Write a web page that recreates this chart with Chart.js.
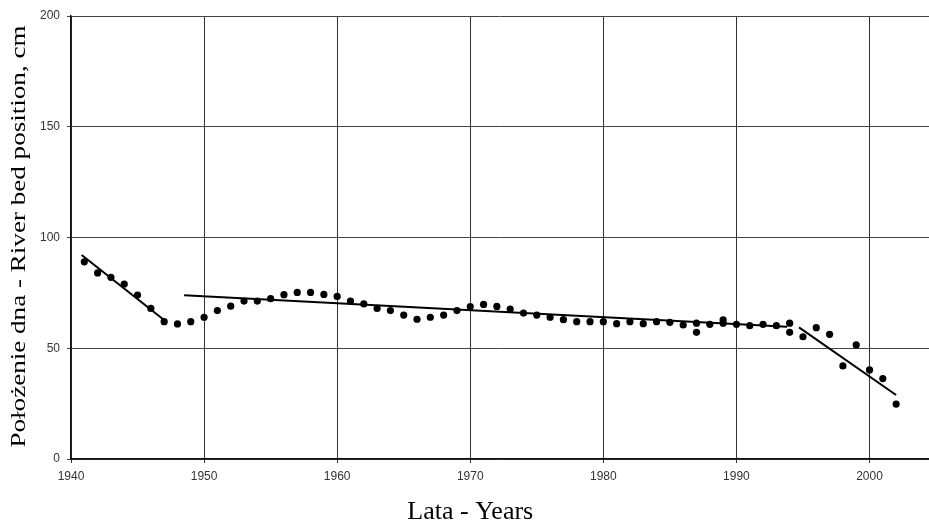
<!DOCTYPE html>
<html>
<head>
<meta charset="utf-8">
<script src="https://cdn.jsdelivr.net/npm/chart.js@4/dist/chart.umd.min.js"></script>
<style>
  html, body { margin: 0; padding: 0; background: #fff; overflow: hidden; }
  #wrap { width: 929px; height: 526px; position: relative; overflow: hidden; }
  #c { display: block; }
</style>
</head>
<body>
<div id="wrap"><canvas id="c" width="933" height="526"></canvas></div>
<script>
// River bed position measurements (cm) by year
const years = [1941, 1942, 1943, 1944, 1945, 1946, 1947, 1948, 1949, 1950,
  1951, 1952, 1953, 1954, 1955, 1956, 1957, 1958, 1959, 1960,
  1961, 1962, 1963, 1964, 1965, 1966, 1967, 1968, 1969, 1970,
  1971, 1972, 1973, 1974, 1975, 1976, 1977, 1978, 1979, 1980,
  1981, 1982, 1983, 1984, 1985, 1986, 1987, 1987, 1988, 1989,
  1989, 1990, 1991, 1992, 1993, 1994, 1994, 1995, 1996, 1997,
  1998, 1999, 2000, 2001, 2002];
const bedPosition = [89, 84, 82, 79, 74, 68, 62, 61, 62, 64,
  67, 69, 71.3, 71.3, 72.4, 74.2, 75.2, 75.2, 74.3, 73.4,
  71.3, 70, 68, 67, 65, 63.1, 64, 65, 67, 68.8,
  69.8, 68.9, 67.7, 65.9, 65, 64, 62.9, 62, 62, 62,
  61.1, 62, 61.1, 62, 61.7, 60.5, 61.3, 57.2, 60.8, 62.8,
  61.3, 60.8, 60.2, 60.8, 60.2, 61.3, 57.2, 55.2, 59.3, 56.3,
  42, 51.5, 40.2, 36.3, 24.8];

// Fitted trend segments: [startYear, endYear] with matching values
const trend1Years = [1940.8, 1946.9];
const trend1Values = [92.1, 63.2];
const trend2Years = [1948.5, 1993.8];
const trend2Values = [73.9, 59.7];
const trend3Years = [1994.7, 2002.0];
const trend3Values = [59.4, 28.9];

// Axis ticks
const yearTicks = [1940, 1950, 1960, 1970, 1980, 1990, 2000];
const valueTicks = [0, 50, 100, 150, 200];

const xTitle = 'Lata - Years';
const yTitle = 'Położenie dna - River bed position, cm';

const toPoints = (xs, ys) => xs.map((x, i) => ({ x: x, y: ys[i] }));

const trendStyle = {
  type: 'line',
  borderColor: '#000',
  borderWidth: 2,
  pointRadius: 0,
  fill: false,
  tension: 0
};

// Axis titles: x title under the middle decade, y title rotated and
// stretched along its length beside the value axis
const axisTitlePlugin = {
  id: 'axisTitles',
  afterDraw(chart) {
    const xs = chart.scales.x;
    const area = chart.chartArea;
    const ctx = chart.ctx;
    const mid = (yearTicks[0] + yearTicks[yearTicks.length - 1]) / 2;
    ctx.save();
    ctx.fillStyle = '#000';
    ctx.textAlign = 'center';
    ctx.textBaseline = 'alphabetic';
    ctx.font = '26px "Liberation Serif", "Times New Roman", serif';
    ctx.fillText(xTitle, xs.getPixelForValue(mid), 519);
    ctx.restore();

    ctx.save();
    ctx.fillStyle = '#000';
    ctx.textAlign = 'center';
    ctx.textBaseline = 'alphabetic';
    ctx.font = '21px "Liberation Serif", "Times New Roman", serif';
    ctx.translate(25, (area.top + area.bottom) / 2 - 1);
    ctx.rotate(-Math.PI / 2);
    ctx.scale(1.29, 1);
    ctx.fillText(yTitle, 0, 0);
    ctx.restore();
  }
};

new Chart(document.getElementById('c'), {
  type: 'scatter',
  data: {
    datasets: [
      Object.assign({ data: toPoints(trend1Years, trend1Values), order: 0 }, trendStyle),
      Object.assign({ data: toPoints(trend2Years, trend2Values), order: 0 }, trendStyle),
      Object.assign({ data: toPoints(trend3Years, trend3Values), order: 0 }, trendStyle),
      {
        type: 'scatter',
        data: toPoints(years, bedPosition),
        backgroundColor: '#000',
        borderWidth: 0,
        pointRadius: 3.6,
        pointHoverRadius: 3.6,
        order: 1
      }
    ]
  },
  plugins: [axisTitlePlugin],
  options: {
    responsive: false,
    animation: false,
    events: [],
    layout: { padding: { top: 16, right: 0, left: 0, bottom: 0 } },
    plugins: {
      legend: { display: false },
      tooltip: { enabled: false }
    },
    scales: {
      x: {
        type: 'linear',
        min: 1940,
        max: 2004.5,
        afterBuildTicks(scale) {
          scale.ticks = yearTicks.map(v => ({ value: v }));
        },
        afterFit(scale) {
          scale.height = 67;
        },
        grid: {
          color: '#333',
          lineWidth: 1,
          tickLength: 4,
          drawTicks: true
        },
        border: { color: '#111', width: 1.5 },
        ticks: {
          font: { family: '"Liberation Sans", Arial, sans-serif', size: 12 },
          color: '#333',
          padding: 6,
          maxRotation: 0,
          callback: v => String(v)
        }
      },
      y: {
        type: 'linear',
        min: 0,
        max: 200,
        afterBuildTicks(scale) {
          scale.ticks = valueTicks.map(v => ({ value: v }));
        },
        afterFit(scale) { scale.width = 71; },
        grid: {
          color: '#444',
          lineWidth: 1,
          tickLength: 4
        },
        border: { color: '#111', width: 1.5 },
        ticks: {
          font: { family: '"Liberation Sans", Arial, sans-serif', size: 12 },
          color: '#333',
          padding: 7,
          callback: v => String(v)
        }
      }
    }
  }
});
</script>
</body>
</html>
